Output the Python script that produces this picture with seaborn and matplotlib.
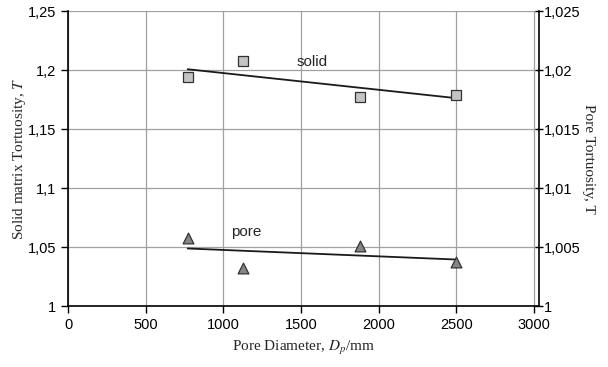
#!/usr/bin/env python3

import pandas as pd
import seaborn as sns
from matplotlib import pyplot as plt
from matplotlib.ticker import FuncFormatter, MultipleLocator

# pore diameter (mm)
diameter = [770, 1125, 1880, 2500]
# solid matrix tortuosity (left axis)
solid_tort = [1.194, 1.2076, 1.177, 1.1788]
# pore tortuosity (right axis)
pore_tort = [1.00576, 1.00322, 1.00508, 1.00373]

x_ticks = [0, 500, 1000, 1500, 2000, 2500, 3000]


def comma(v, pos):
    return '{:g}'.format(round(v, 4)).replace('.', ',')


def plot(out_file):
    df = pd.DataFrame({'d': diameter, 'solid': solid_tort, 'pore': pore_tort})

    sns.set_theme(style="ticks")
    plt.rcParams['font.family'] = ['Liberation Sans', 'DejaVu Sans']
    plt.rcParams['mathtext.fontset'] = 'stix'

    f, ax = plt.subplots(figsize=(6.08, 3.67), dpi=100)
    f.subplots_adjust(left=0.112, right=0.886, bottom=0.166, top=0.970)
    ax2 = ax.twinx()

    ax.set_xlim(0, 3030)
    ax.set_ylim(1.0, 1.25)
    ax2.set_ylim(1.0, 1.025)

    ax.set_xticks(x_ticks)
    ax.yaxis.set_major_locator(MultipleLocator(0.05))
    ax2.yaxis.set_major_locator(MultipleLocator(0.005))
    ax.yaxis.set_major_formatter(FuncFormatter(comma))
    ax2.yaxis.set_major_formatter(FuncFormatter(comma))

    ax.grid(True, color='#a0a0a0', linewidth=0.9)
    ax.set_axisbelow(True)

    # solid matrix
    sns.regplot(data=df, x='d', y='solid', scatter=False, ci=None, ax=ax,
                line_kws={'color': '#1a1a1a', 'linewidth': 1.3})
    sns.scatterplot(data=df, x='d', y='solid', marker='s', s=55,
                    color='#c4c4c4', edgecolor='#333333', linewidth=0.9,
                    ax=ax, zorder=3)

    # pore
    sns.regplot(data=df, x='d', y='pore', scatter=False, ci=None, ax=ax2,
                line_kws={'color': '#1a1a1a', 'linewidth': 1.3})
    sns.scatterplot(data=df, x='d', y='pore', marker='^', s=60,
                    color='#858585', edgecolor='#333333', linewidth=0.9,
                    ax=ax2, zorder=3)

    ax.text(1570, 1.207, 'solid', ha='center', va='center', fontsize=11)
    ax2.text(1150, 1.0063, 'pore', ha='center', va='center', fontsize=11)

    for s in ['left', 'bottom']:
        ax.spines[s].set_color('black')
        ax.spines[s].set_linewidth(1.2)
    ax.spines['top'].set_visible(False)
    ax.spines['right'].set_visible(False)
    ax2.spines['top'].set_visible(False)
    ax2.spines['left'].set_visible(False)
    ax2.spines['bottom'].set_visible(False)
    ax2.spines['right'].set_color('black')
    ax2.spines['right'].set_linewidth(1.2)

    ax.tick_params(axis='both', labelsize=10.5, colors='black', length=5,
                   width=1, direction='out')
    ax2.tick_params(axis='y', labelsize=10.5, colors='black', length=6,
                    width=1, direction='inout', pad=1)

    serif = ['Liberation Serif', 'DejaVu Serif']
    ax.set_xlabel('Pore Diameter, $D_p$/mm', fontsize=11, family=serif,
                  labelpad=5)
    ax.set_ylabel('Solid matrix Tortuosity, $T$', fontsize=11, family=serif,
                  labelpad=0)
    ax2.set_ylabel('Pore Tortuosity, T', fontsize=11, family=serif,
                   rotation=270, labelpad=10)

    f.savefig(out_file, dpi=100)


if __name__ == '__main__':
    plot('out.png')
